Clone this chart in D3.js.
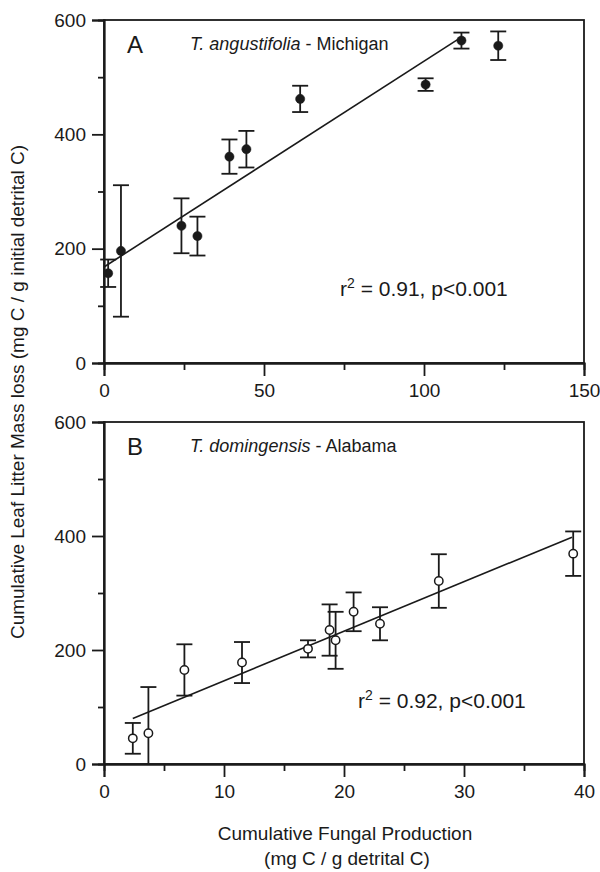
<!DOCTYPE html>
<html>
<head>
<meta charset="utf-8">
<script src="https://cdn.jsdelivr.net/npm/d3@7"></script>
<style>
  body { margin: 0; background: #fff; }
  text { font-family: "Liberation Sans", Arial, sans-serif; fill: #1a1a1a; }
</style>
</head>
<body>
<div id="chart"></div>
<script>
// panel A: T. angustifolia - Michigan
var xA = [1.3, 5.3, 24.2, 29.2, 39.2, 44.5, 61.3, 100.5, 111.7, 123.2];
var yA = [157, 196, 240, 222, 361, 374, 462, 487, 564, 555];
var errA = [24, 115, 48, 34, 30, 32, 23, 11, 14, 25];
var fitAX = [0, 111.7];
var fitAY = [168, 570];

// panel B: T. domingensis - Alabama
var xB = [2.4, 3.7, 6.7, 11.5, 17.0, 18.8, 19.3, 20.8, 23.0, 27.9, 39.1];
var yB = [45, 54, 165, 178, 202, 235, 217, 267, 246, 321, 369];
var errB = [27, 81, 45, 36, 15, 45, 50, 34, 29, 47, 39];
var fitBX = [2.4, 39.0];
var fitBY = [80, 398];

var yTicks = [0, 200, 400, 600];
var yMinor = [100, 300, 500];
var xTicksA = [0, 50, 100, 150];
var xMinorA = [25, 75, 125];
var xTicksB = [0, 10, 20, 30, 40];
var xMinorB = [5, 15, 25, 35];

var ink = "#1a1a1a";
var svg = d3.select("#chart").append("svg")
  .attr("width", 600)
  .attr("height", 872);

var left = 104, right = 584;

function drawPanel(cfg) {
  var x = d3.scaleLinear().domain(cfg.xDomain).range([left, right]);
  var y = d3.scaleLinear().domain([0, 600]).range([cfg.bottom, cfg.top]);
  var g = svg.append("g");

  // frame
  g.append("rect")
    .attr("x", left).attr("y", cfg.top)
    .attr("width", right - left).attr("height", cfg.bottom - cfg.top)
    .attr("fill", "none").attr("stroke", ink).attr("stroke-width", 1.8);

  // axes
  var xAxis = g.append("g")
    .attr("transform", "translate(0," + cfg.bottom + ")")
    .call(d3.axisBottom(x).tickValues(cfg.xTicks).tickSize(13).tickPadding(8).tickFormat(d3.format("d")));
  g.append("g")
    .attr("transform", "translate(0," + cfg.bottom + ")")
    .call(d3.axisBottom(x).tickValues(cfg.xMinor).tickSize(7).tickFormat(""));
  g.append("g")
    .attr("transform", "translate(" + left + ",0)")
    .call(d3.axisLeft(y).tickValues(yTicks).tickSize(12).tickPadding(6));
  g.append("g")
    .attr("transform", "translate(" + left + ",0)")
    .call(d3.axisLeft(y).tickValues(yMinor).tickSize(6).tickFormat(""));

  g.selectAll(".domain").attr("stroke", ink).attr("stroke-width", 1.8);
  g.selectAll(".tick line").attr("stroke", ink).attr("stroke-width", 1.8);
  g.selectAll(".tick text").style("font-size", "19px").attr("fill", ink);

  // regression line
  g.append("line")
    .attr("x1", x(cfg.fitX[0])).attr("y1", y(cfg.fitY[0]))
    .attr("x2", x(cfg.fitX[1])).attr("y2", y(cfg.fitY[1]))
    .attr("stroke", ink).attr("stroke-width", 1.6);

  // error bars
  var pts = cfg.xs.map(function (d, i) {
    return { x: d, y: cfg.ys[i], e: cfg.errs[i] };
  });
  var eb = g.selectAll(".eb").data(pts).enter().append("g");
  eb.append("line")
    .attr("x1", function (d) { return x(d.x); })
    .attr("x2", function (d) { return x(d.x); })
    .attr("y1", function (d) { return y(d.y + d.e); })
    .attr("y2", function (d) { return y(Math.max(0, d.y - d.e)); })
    .attr("stroke", ink).attr("stroke-width", 1.8);
  eb.append("line")
    .attr("x1", function (d) { return x(d.x) - 8; })
    .attr("x2", function (d) { return x(d.x) + 8; })
    .attr("y1", function (d) { return y(d.y + d.e); })
    .attr("y2", function (d) { return y(d.y + d.e); })
    .attr("stroke", ink).attr("stroke-width", 1.8);
  eb.filter(function (d) { return d.y - d.e > 0; }).append("line")
    .attr("x1", function (d) { return x(d.x) - 8; })
    .attr("x2", function (d) { return x(d.x) + 8; })
    .attr("y1", function (d) { return y(d.y - d.e); })
    .attr("y2", function (d) { return y(d.y - d.e); })
    .attr("stroke", ink).attr("stroke-width", 1.8);

  // points
  g.selectAll(".pt").data(pts).enter().append("circle")
    .attr("cx", function (d) { return x(d.x); })
    .attr("cy", function (d) { return y(d.y); })
    .attr("r", cfg.filled ? 4.6 : 4.2)
    .attr("fill", cfg.filled ? ink : "#fff")
    .attr("stroke", ink)
    .attr("stroke-width", cfg.filled ? 0.5 : 1.5);

  // panel letter and title
  g.append("text")
    .attr("x", 127).attr("y", cfg.top + 33)
    .style("font-size", "24px")
    .text(cfg.letter);
  var t = g.append("text")
    .attr("x", 190).attr("y", cfg.top + 30)
    .style("font-size", "18px");
  t.append("tspan").style("font-style", "italic").text(cfg.species);
  t.append("tspan").text(" - " + cfg.site);

  // r2 label
  var r = g.append("text")
    .attr("x", cfg.rX).attr("y", cfg.rY)
    .style("font-size", "21px");
  r.append("tspan").text("r");
  r.append("tspan").attr("dy", -8).style("font-size", "14px").text("2");
  r.append("tspan").attr("dy", 8).text(" = " + cfg.rText);
}

drawPanel({
  xDomain: [0, 150], top: 20, bottom: 363,
  xTicks: xTicksA, xMinor: xMinorA,
  xs: xA, ys: yA, errs: errA, fitX: fitAX, fitY: fitAY,
  filled: true, letter: "A", species: "T. angustifolia", site: "Michigan",
  rX: 340, rY: 296, rText: "0.91, p<0.001"
});

drawPanel({
  xDomain: [0, 40], top: 422, bottom: 764,
  xTicks: xTicksB, xMinor: xMinorB,
  xs: xB, ys: yB, errs: errB, fitX: fitBX, fitY: fitBY,
  filled: false, letter: "B", species: "T. domingensis", site: "Alabama",
  rX: 358, rY: 708, rText: "0.92, p<0.001"
});

// axis titles
svg.append("text")
  .attr("transform", "translate(24,392) rotate(-90)")
  .attr("text-anchor", "middle")
  .style("font-size", "19px")
  .text("Cumulative Leaf Litter Mass loss (mg C / g initial detrital C)");

svg.append("text")
  .attr("x", 345).attr("y", 840)
  .attr("text-anchor", "middle")
  .style("font-size", "19px")
  .text("Cumulative Fungal Production");
svg.append("text")
  .attr("x", 347).attr("y", 865)
  .attr("text-anchor", "middle")
  .style("font-size", "19px")
  .text("(mg C / g detrital C)");
</script>
</body>
</html>
